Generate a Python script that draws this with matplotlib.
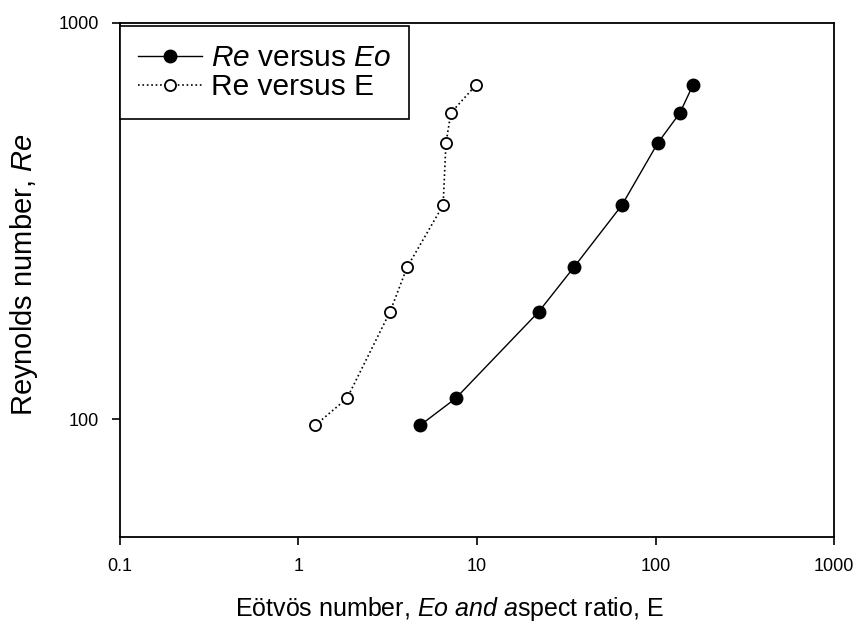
import matplotlib.pyplot as plt
from matplotlib.ticker import FixedLocator, NullLocator, FixedFormatter

plt.rcParams['font.family'] = ['Liberation Sans', 'DejaVu Sans']
plt.rcParams['mathtext.fontset'] = 'custom'
plt.rcParams['mathtext.rm'] = 'Liberation Sans'
plt.rcParams['mathtext.it'] = 'Liberation Sans:italic'

# Reynolds numbers
re_vals = [96.6, 113, 187, 242, 347, 498, 593, 697]
# Eotvos numbers
eo_vals = [4.8, 7.6, 22.2, 34.9, 64.8, 103, 137, 162]
# aspect ratio
e_vals = [1.24, 1.87, 3.26, 4.06, 6.46, 6.70, 7.14, 9.86]

fig = plt.figure(figsize=(8.54, 6.26), dpi=100)
ax = fig.add_axes([0.1405, 0.1422, 0.8361, 0.8211])

ax.plot(eo_vals, re_vals, '-', color='black', lw=1.0, marker='o', ms=9,
        mfc='black', mec='black', label=r'$Re$ versus $Eo$')
ax.plot(e_vals, re_vals, ':', color='black', lw=1.2, marker='o', ms=8,
        mfc='white', mec='black', mew=1.3, label='Re versus E')

ax.set_xscale('log')
ax.set_yscale('log')
ax.set_xlim(0.1, 1000)
ax.set_ylim(50.5, 1000)

ax.xaxis.set_major_locator(FixedLocator([0.1, 1, 10, 100, 1000]))
ax.xaxis.set_major_formatter(FixedFormatter(['0.1', '1', '10', '100', '1000']))
ax.xaxis.set_minor_locator(NullLocator())
ax.yaxis.set_major_locator(FixedLocator([100, 1000]))
ax.yaxis.set_major_formatter(FixedFormatter(['100', '1000']))
ax.yaxis.set_minor_locator(NullLocator())
ax.tick_params(direction='out', length=6, width=1.2, labelsize=13, pad=9)

for s in ax.spines.values():
    s.set_linewidth(1.3)

ax.set_xlabel(r'Eötvös number, $Eo$ $and$ $a$spect ratio, E', fontsize=18)
ax.xaxis.set_label_coords(0.462, -0.112)
ax.set_ylabel(r'Reynolds number, $Re$', fontsize=21)
ax.yaxis.set_label_coords(-0.112, 0.51)

leg = ax.legend(loc='upper left', bbox_to_anchor=(0, 0.994), fontsize=21.5,
                handlelength=2.15, borderaxespad=0, fancybox=False, framealpha=1,
                edgecolor='black', borderpad=0.6, labelspacing=0.05,
                handletextpad=0.3)
leg.get_frame().set_linewidth(1.2)

fig.savefig('out.png', dpi=100)
